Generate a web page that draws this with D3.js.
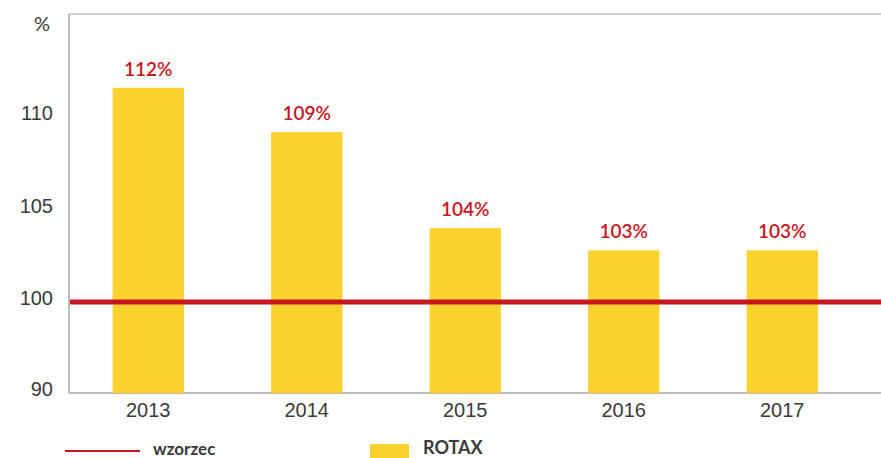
<!DOCTYPE html>
<html>
<head>
<meta charset="utf-8">
<script src="https://cdn.jsdelivr.net/npm/d3@7"></script>
<style>
  body { margin: 0; background: #fff; }
  svg { display: block; font-family: Lato, "Open Sans", sans-serif; }
</style>
</head>
<body>
<div id="chart"></div>
<script>
const years = ["2013", "2014", "2015", "2016", "2017"];
const rotax = [111.6, 109.2, 104.0, 102.8, 102.8];
const valueLabels = ["112%", "109%", "104%", "103%", "103%"];
const reference = 100;
const yTicks = [90, 100, 105, 110];

const width = 881, height = 458;
const plot = { left: 69, right: 881, top: 14, bottom: 393 };

const svg = d3.select("#chart")
    .append("svg")
    .attr("width", width)
    .attr("height", height);

const x = d3.scaleBand()
    .domain(years)
    .range([plot.left, plot.left + 5 * 158.5])
    .paddingInner(0.55)
    .paddingOuter(0.275);

// broken axis: 90 sits one step below 100
const y = d3.scaleLinear()
    .domain([90, 100, 115.6])
    .range([plot.bottom, 302, plot.top]);

// frame line at the top
svg.append("line")
    .attr("x1", plot.left).attr("x2", plot.right)
    .attr("y1", plot.top).attr("y2", plot.top)
    .attr("stroke", "#cfcfcf").attr("stroke-width", 2);

svg.append("g")
    .attr("transform", `translate(0,${plot.bottom})`)
    .call(d3.axisBottom(x).tickSize(0).tickPadding(10))
    .call(g => g.select(".domain").attr("d", `M${plot.left},0H${plot.right}`).attr("stroke", "#bdbdbd").attr("stroke-width", 2))
    .selectAll("text")
    .style("font-size", "20px")
    .style("fill", "#3a3a3a");

svg.append("g")
    .attr("transform", `translate(${plot.left},0)`)
    .call(d3.axisLeft(y).tickValues(yTicks).tickSize(0).tickPadding(16))
    .call(g => g.select(".domain").attr("d", `M0,${plot.top}V${plot.bottom}`).attr("stroke", "#bdbdbd").attr("stroke-width", 2))
    .selectAll("text")
    .attr("dy", "0.12em")
    .style("font-size", "20px")
    .style("fill", "#3a3a3a");

svg.append("text")
    .attr("x", 42)
    .attr("y", 31)
    .attr("text-anchor", "middle")
    .style("font-size", "20px")
    .style("fill", "#3a3a3a")
    .text("%");

svg.selectAll(".bar")
    .data(rotax)
    .join("rect")
    .attr("class", "bar")
    .attr("x", (d, i) => x(years[i]))
    .attr("width", x.bandwidth())
    .attr("y", d => y(d))
    .attr("height", d => y(90) - y(d))
    .attr("fill", "#fbd22f");

svg.selectAll(".val")
    .data(rotax)
    .join("text")
    .attr("class", "val")
    .attr("x", (d, i) => x(years[i]) + x.bandwidth() / 2)
    .attr("y", d => y(d) - 12)
    .attr("text-anchor", "middle")
    .style("font-size", "19px")
    .style("font-weight", "600")
    .style("fill", "#c8161e")
    .text((d, i) => valueLabels[i]);

svg.append("line")
    .attr("x1", plot.left + 1).attr("x2", plot.right)
    .attr("y1", y(reference)).attr("y2", y(reference))
    .attr("stroke", "#c8161e").attr("stroke-width", 5);

// legend
const legend = svg.append("g");
legend.append("line")
    .attr("x1", 65).attr("x2", 140)
    .attr("y1", 451).attr("y2", 451)
    .attr("stroke", "#c8161e").attr("stroke-width", 2);
legend.append("text")
    .attr("x", 153).attr("y", 455)
    .style("font-size", "17px")
    .style("font-weight", "700")
    .style("fill", "#3a3a3a")
    .text("wzorzec");
legend.append("rect")
    .attr("x", 370).attr("y", 444)
    .attr("width", 39).attr("height", 20)
    .attr("fill", "#fbd22f");
legend.append("text")
    .attr("x", 423).attr("y", 454)
    .style("font-size", "18px")
    .style("font-weight", "700")
    .style("fill", "#3a3a3a")
    .text("ROTAX");
</script>
</body>
</html>
